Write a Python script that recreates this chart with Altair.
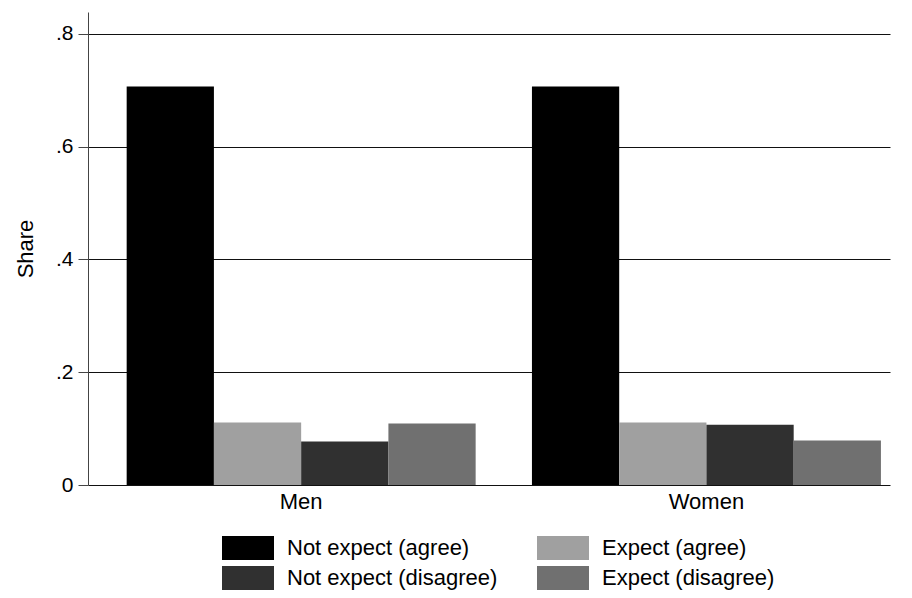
import altair as alt
import pandas as pd

groups = ["Men", "Women"]
categories = ["Not expect (agree)", "Expect (agree)", "Not expect (disagree)", "Expect (disagree)"]
men_values = [0.707, 0.111, 0.077, 0.109]
women_values = [0.707, 0.111, 0.107, 0.079]
colors = ["#000000", "#a0a0a0", "#303030", "#707070"]
y_ticks = [0, 0.2, 0.4, 0.6, 0.8]

rows = []
for g, vals in zip(groups, [men_values, women_values]):
    for c, v in zip(categories, vals):
        rows.append({"group": g, "category": c, "share": v})
df = pd.DataFrame(rows)

FONT = "Liberation Sans"

chart = alt.Chart(df).mark_bar(strokeWidth=0).encode(
    x=alt.X(
        "group:N", sort=groups, title=None,
        scale=alt.Scale(paddingInner=0.1389, paddingOuter=0.0589, align=0.81),
        axis=alt.Axis(labelAngle=0, domain=False, ticks=False, labelPadding=6,
                      labelFontSize=22, labelColor="#000", labelFont=FONT, grid=False),
    ),
    xOffset=alt.XOffset("category:N", sort=categories,
                        scale=alt.Scale(paddingInner=0, paddingOuter=0)),
    y=alt.Y(
        "share:Q", title="Share",
        scale=alt.Scale(domain=[0, 0.839], nice=False, zero=True),
        axis=alt.Axis(
            values=y_ticks,
            labelExpr="datum.value == 0 ? '0' : replace(format(datum.value, '.1f'), '0.', '.')",
            grid=True, gridColor="#111", gridWidth=1,
            domain=True, domainColor="#444", domainWidth=1,
            ticks=True, tickColor="#444", tickSize=10, tickWidth=1,
            labelPadding=5, labelFontSize=21, labelColor="#000", labelFont=FONT,
            titleFont=FONT, titleFontSize=22, titleFontWeight="normal", titleColor="#000",
            titlePadding=18,
        ),
    ),
    color=alt.Color(
        "category:N", sort=categories,
        scale=alt.Scale(domain=categories, range=colors),
        legend=alt.Legend(
            title=None, orient="none", legendX=148, legendY=524, columns=2,
            direction="horizontal",
            symbolType="M-2.1667,-1H2.1667V1H-2.1667Z", symbolSize=576,
            symbolStrokeWidth=0, symbolOpacity=1,
            labelFont=FONT, labelFontSize=22, labelColor="#000", labelOffset=27,
            labelLimit=400, rowPadding=6, columnPadding=38, padding=0,
            gridAlign="all",
        ),
    ),
).properties(
    width=802, height=473,
    autosize=alt.AutoSizeParams(type="none"),
    padding={"left": 80, "top": 4, "right": 14, "bottom": 105},
).configure_view(stroke=None)

chart.save("out.html", embed_options={"renderer": "svg", "actions": False})
